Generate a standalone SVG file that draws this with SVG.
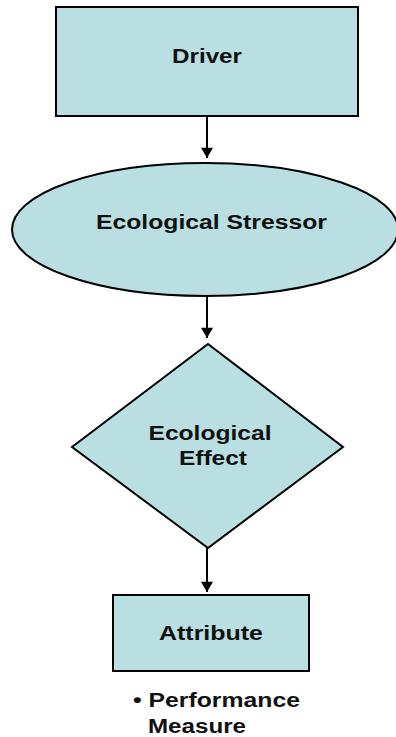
<svg xmlns="http://www.w3.org/2000/svg" width="396" height="737" viewBox="0 0 396 737">
<style>
.node{fill:#B9DFE2;stroke:#000;stroke-width:2}
.lbl{font-family:"Liberation Sans",Arial,sans-serif;font-weight:bold;font-size:20px;fill:#111;text-anchor:middle}
.note{font-family:"Liberation Sans",Arial,sans-serif;font-weight:bold;font-size:20px;fill:#111}
.edge{stroke:#000;stroke-width:2;fill:none;marker-end:url(#ah)}
</style>
<defs>
<marker id="ah" markerUnits="userSpaceOnUse" markerWidth="14" markerHeight="12" refX="12" refY="7" orient="auto" viewBox="0 0 12 14">
<path d="M0,0 L12,7 L0,14 Z" fill="#000"/>
</marker>
</defs>
<rect width="396" height="737" fill="#fff"/>
<g id="connectors">
<line class="edge" x1="207" y1="116" x2="207" y2="158"/>
<line class="edge" x1="207" y1="296" x2="207" y2="338"/>
<line class="edge" x1="207" y1="548" x2="207" y2="592"/>
</g>
<g id="driver">
<rect class="node" x="56" y="7" width="302" height="109"/>
<text class="lbl" x="207" y="63" textLength="70" lengthAdjust="spacingAndGlyphs">Driver</text>
</g>
<g id="stressor">
<ellipse class="node" cx="205" cy="229.5" rx="193" ry="66.5"/>
<text class="lbl" x="211.5" y="229" textLength="231" lengthAdjust="spacingAndGlyphs">Ecological Stressor</text>
</g>
<g id="effect">
<polygon class="node" points="208,344 343,447 208,548 72,447"/>
<text class="lbl" x="210" y="440" textLength="123" lengthAdjust="spacingAndGlyphs">Ecological</text>
<text class="lbl" x="213" y="465" textLength="68" lengthAdjust="spacingAndGlyphs">Effect</text>
</g>
<g id="attribute">
<rect class="node" x="113" y="595" width="196" height="76"/>
<text class="lbl" x="211" y="640" textLength="104" lengthAdjust="spacingAndGlyphs">Attribute</text>
</g>
<g id="measure">
<text class="note" x="133" y="707" textLength="167" lengthAdjust="spacingAndGlyphs">• Performance</text>
<text class="note" x="148" y="733" textLength="98" lengthAdjust="spacingAndGlyphs">Measure</text>
</g>
</svg>
